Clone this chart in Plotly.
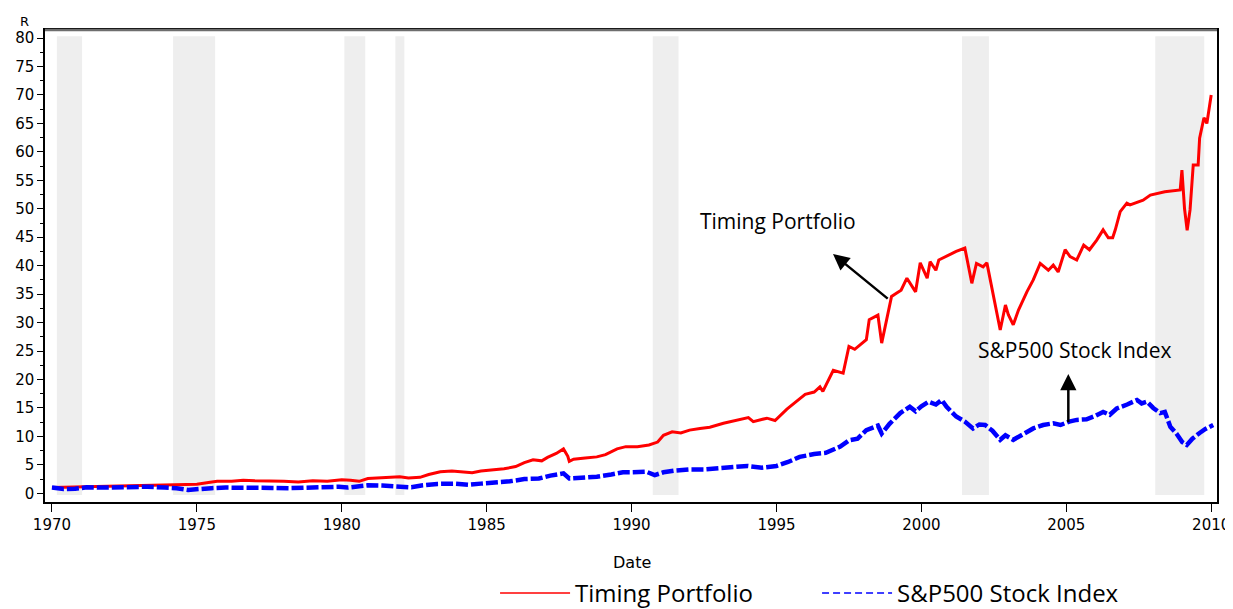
import plotly.graph_objects as go

# ---------------- data ----------------
timing_years = [1970.0, 1970.5, 1971.0, 1971.5, 1972.0, 1972.5, 1973.0, 1973.5, 1974.0, 1974.5,
                1975.0, 1975.4, 1975.7, 1976.2, 1976.6, 1977.0, 1977.5, 1978.0, 1978.5, 1979.0,
                1979.5, 1980.0, 1980.3, 1980.6, 1980.9, 1981.3, 1981.7, 1982.0, 1982.3, 1982.7,
                1983.0, 1983.4, 1983.8, 1984.2, 1984.5, 1984.8, 1985.2, 1985.6, 1986.0, 1986.3,
                1986.6, 1986.9, 1987.1, 1987.4, 1987.65, 1987.8, 1987.85, 1988.0, 1988.4, 1988.8,
                1989.1, 1989.5, 1989.8, 1990.2, 1990.6, 1990.9, 1991.1, 1991.4, 1991.7, 1992.0,
                1992.36, 1992.7, 1993.17, 1993.6, 1994.03, 1994.2, 1994.67, 1994.95, 1995.36, 1995.7,
                1995.99, 1996.3, 1996.5, 1996.6, 1996.96, 1997.3, 1997.5, 1997.7, 1998.1, 1998.2,
                1998.5, 1998.63, 1998.8, 1998.97, 1999.15, 1999.3, 1999.5, 1999.65, 1999.8, 1999.96,
                2000.2, 2000.3, 2000.5, 2000.6, 2000.9, 2001.2, 2001.5, 2001.74, 2001.9, 2002.13,
                2002.26, 2002.37, 2002.6, 2002.72, 2002.9, 2003.0, 2003.17, 2003.35, 2003.64, 2003.86,
                2004.1, 2004.38, 2004.55, 2004.72, 2004.96, 2005.13, 2005.36, 2005.6, 2005.8, 2006.05,
                2006.27, 2006.45, 2006.6, 2006.69, 2006.86, 2007.09, 2007.2, 2007.65, 2007.9, 2008.4,
                2008.93, 2008.99, 2009.08, 2009.17, 2009.27, 2009.38, 2009.55, 2009.6, 2009.75, 2009.85,
                2010.0]
timing_values = [1.0, 1.05, 1.15, 1.25, 1.3, 1.35, 1.4, 1.4, 1.45, 1.5,
                 1.6, 1.9, 2.1, 2.1, 2.3, 2.2, 2.2, 2.1, 2.0, 2.2,
                 2.1, 2.4, 2.3, 2.1, 2.6, 2.7, 2.8, 2.9, 2.7, 2.8,
                 3.3, 3.8, 3.9, 3.8, 3.6, 3.9, 4.1, 4.3, 4.7, 5.4,
                 5.9, 5.7, 6.3, 7.0, 7.8, 6.5, 5.6, 6.0, 6.2, 6.4,
                 6.8, 7.8, 8.2, 8.2, 8.5, 9.0, 10.2, 10.8, 10.6, 11.1,
                 11.4, 11.6, 12.3, 12.8, 13.3, 12.6, 13.2, 12.8, 14.8, 16.2,
                 17.4, 17.8, 18.7, 17.9, 21.6, 21.1, 25.8, 25.3, 27.0, 30.5,
                 31.3, 26.4, 30.5, 34.6, 35.2, 35.7, 37.8, 36.5, 35.4, 40.5,
                 37.8, 40.7, 39.2, 41.0, 41.8, 42.5, 43.1, 36.9, 40.4, 39.8,
                 40.5, 37.8, 32.2, 28.7, 33.1, 31.4, 29.6, 32.2, 35.4, 37.5,
                 40.4, 39.2, 40.1, 38.9, 42.8, 41.6, 41.0, 43.6, 42.8, 44.5,
                 46.3, 44.9, 44.9, 46.3, 49.5, 51.0, 50.7, 51.5, 52.4, 53.0,
                 53.3, 56.8, 50.0, 46.2, 49.8, 57.7, 57.7, 62.4, 66.0, 65.0,
                 70.0]

sp500_years = [1970.0, 1970.4, 1970.8, 1971.2, 1971.7, 1972.2, 1972.8, 1973.3, 1973.9, 1974.3,
               1974.7, 1975.0, 1975.5, 1976.0, 1976.6, 1977.0, 1977.6, 1978.2, 1978.7, 1979.3,
               1979.9, 1980.2, 1980.6, 1980.9, 1981.4, 1981.9, 1982.4, 1982.8, 1983.3, 1983.9,
               1984.4, 1984.8, 1985.3, 1985.8, 1986.3, 1986.8, 1987.2, 1987.65, 1987.85, 1988.3,
               1988.8, 1989.3, 1989.7, 1990.0, 1990.5, 1990.8, 1991.1, 1991.5, 1992.0, 1992.5,
               1993.0, 1993.5, 1994.0, 1994.5, 1995.0, 1995.4, 1995.8, 1996.3, 1996.7, 1997.2,
               1997.5, 1997.8, 1998.1, 1998.5, 1998.63, 1998.9, 1999.27, 1999.6, 1999.8, 2000.0,
               2000.25, 2000.5, 2000.7, 2000.87, 2001.2, 2001.5, 2001.78, 2002.0, 2002.2, 2002.45,
               2002.72, 2002.9, 2003.17, 2003.45, 2003.86, 2004.2, 2004.55, 2004.8, 2005.1, 2005.36,
               2005.7, 2006.0, 2006.27, 2006.5, 2006.74, 2007.1, 2007.44, 2007.6, 2007.78, 2008.0,
               2008.24, 2008.4, 2008.59, 2008.8, 2009.0, 2009.16, 2009.35, 2009.6, 2009.8, 2010.07]
sp500_values = [1.0, 0.75, 0.8, 1.05, 1.0, 1.1, 1.2, 1.15, 1.0, 0.9,
                0.6, 0.75, 0.9, 1.0, 1.05, 1.0, 0.95, 0.9, 1.0, 1.0,
                1.15, 1.0, 1.3, 1.4, 1.35, 1.2, 1.05, 1.4, 1.65, 1.7,
                1.5, 1.7, 1.85, 2.1, 2.5, 2.6, 3.1, 3.5, 2.6, 2.7,
                2.9, 3.3, 3.7, 3.7, 3.8, 3.2, 3.7, 4.0, 4.2, 4.2,
                4.4, 4.6, 4.8, 4.5, 4.8, 5.5, 6.4, 6.9, 7.1, 8.2,
                9.3, 9.6, 11.1, 11.9, 10.5, 12.2, 14.1, 15.2, 14.4, 15.3,
                16.1, 15.6, 16.4, 15.2, 13.5, 12.6, 11.4, 12.1, 12.0, 11.0,
                9.4, 10.2, 9.4, 10.2, 11.4, 12.0, 12.3, 12.0, 12.6, 12.9,
                13.0, 13.6, 14.3, 13.8, 14.9, 15.6, 16.4, 15.8, 16.1, 15.0,
                14.1, 14.3, 11.7, 10.5, 9.0, 8.5, 9.6, 10.6, 11.3, 12.0]

band_starts = [1970.17, 1974.18, 1980.09, 1981.85, 1990.73, 2001.40, 2008.07]
band_ends = [1971.04, 1975.63, 1980.81, 1982.16, 1991.62, 2002.33, 2009.76]

x_ticks = [1970, 1975, 1980, 1985, 1990, 1995, 2000, 2005, 2010]
y_ticks = [0, 5, 10, 15, 20, 25, 30, 35, 40, 45, 50, 55, 60, 65, 70, 75, 80]

timing_name = "Timing Portfolio"
sp500_name = "S&P500 Stock Index"

# ---------------- figure ----------------
fig = go.Figure()

fig.add_trace(go.Scatter(x=timing_years, y=timing_values, mode="lines", name=timing_name,
                         line=dict(color="#FF0000", width=3), showlegend=False))
fig.add_trace(go.Scatter(x=sp500_years, y=sp500_values, mode="lines", name=sp500_name,
                         line=dict(color="#0000FF", width=4.5, dash="12px,3px"), showlegend=False))

# legend-only entries with thin sample lines
fig.add_trace(go.Scatter(x=[None], y=[None], mode="lines", name=timing_name,
                         line=dict(color="#FF0000", width=1.5)))
fig.add_trace(go.Scatter(x=[None], y=[None], mode="lines", name=sp500_name,
                         line=dict(color="#0000FF", width=1.5, dash="7px,4px")))

shapes = []
for s, e in zip(band_starts, band_ends):
    shapes.append(dict(type="rect", xref="x", yref="y", x0=s, x1=e, y0=-0.3, y1=80.3,
                       fillcolor="#EEEEEE", line=dict(width=0), layer="below"))
# gray top frame line
shapes.append(dict(type="line", xref="paper", yref="paper", x0=0, x1=1, y0=1, y1=1,
                   line=dict(color="#6E6E6E", width=2.5)))

annotations = [
    dict(text="R", xref="paper", yref="paper", x=-0.0179, y=1.019, showarrow=False,
         font=dict(family="DejaVu Sans", size=13, color="#000000"), xanchor="center", yanchor="middle"),
    dict(text="Date", xref="paper", yref="paper", x=0.5009, y=-0.1292, showarrow=False,
         font=dict(family="DejaVu Sans", size=16, color="#000000"), xanchor="center", yanchor="middle"),
    dict(text=timing_name, xref="x", yref="y", x=1995.06, y=47.9, showarrow=False,
         font=dict(family="Open Sans", size=21, color="#000000"), xanchor="center", yanchor="middle"),
    dict(text="", xref="x", yref="y", x=1996.95, y=42.06, axref="x", ayref="y", ax=1998.89, ay=34.0,
         showarrow=True, arrowhead=2, arrowsize=1.3, arrowwidth=2.5, arrowcolor="#000000"),
    dict(text=sp500_name, xref="x", yref="y", x=2005.3, y=25.2, showarrow=False,
         font=dict(family="Open Sans", size=21, color="#000000"), xanchor="center", yanchor="middle"),
    dict(text="", xref="x", yref="y", x=2005.07, y=20.95, axref="x", ayref="y", ax=2005.07, ay=12.2,
         showarrow=True, arrowhead=2, arrowsize=1.3, arrowwidth=2.5, arrowcolor="#000000"),
]

# the page body adds an 8px offset, so the figure is 8px smaller on each axis
fig.update_layout(
    width=1225, height=601,
    margin=dict(l=37, r=16, t=22, b=107, autoexpand=False),
    paper_bgcolor="#FFFFFF", plot_bgcolor="#FFFFFF",
    shapes=shapes, annotations=annotations,
    legend=dict(orientation="h", xref="container", yref="container", x=0.3976, y=0.026,
                xanchor="left", yanchor="middle", font=dict(family="Open Sans", size=24, color="#000000"),
                itemwidth=70, entrywidth=237, entrywidthmode="pixels", bgcolor="rgba(0,0,0,0)"),
    xaxis=dict(range=[1969.76, 2010.2], tickvals=x_ticks, ticktext=[str(t) for t in x_ticks],
               showgrid=False, zeroline=False, showline=True, linecolor="#000000", linewidth=1.5,
               mirror=True, ticks="outside", ticklen=8, tickwidth=1, tickcolor="#000000",
               tickfont=dict(family="DejaVu Sans", size=15, color="#000000")),
    yaxis=dict(range=[-1.53, 81.42], tickvals=y_ticks, ticktext=[str(t) for t in y_ticks],
               showgrid=False, zeroline=False, showline=True, linecolor="#000000", linewidth=1.5,
               mirror=True, ticks="outside", ticklen=6, tickwidth=1, tickcolor="#000000",
               tickfont=dict(family="DejaVu Sans", size=15, color="#000000"),
               minor=dict(dtick=2.5, tick0=0, ticks="outside", ticklen=3, tickcolor="#000000", showgrid=False)),
)

fig.write_html("out.html")
